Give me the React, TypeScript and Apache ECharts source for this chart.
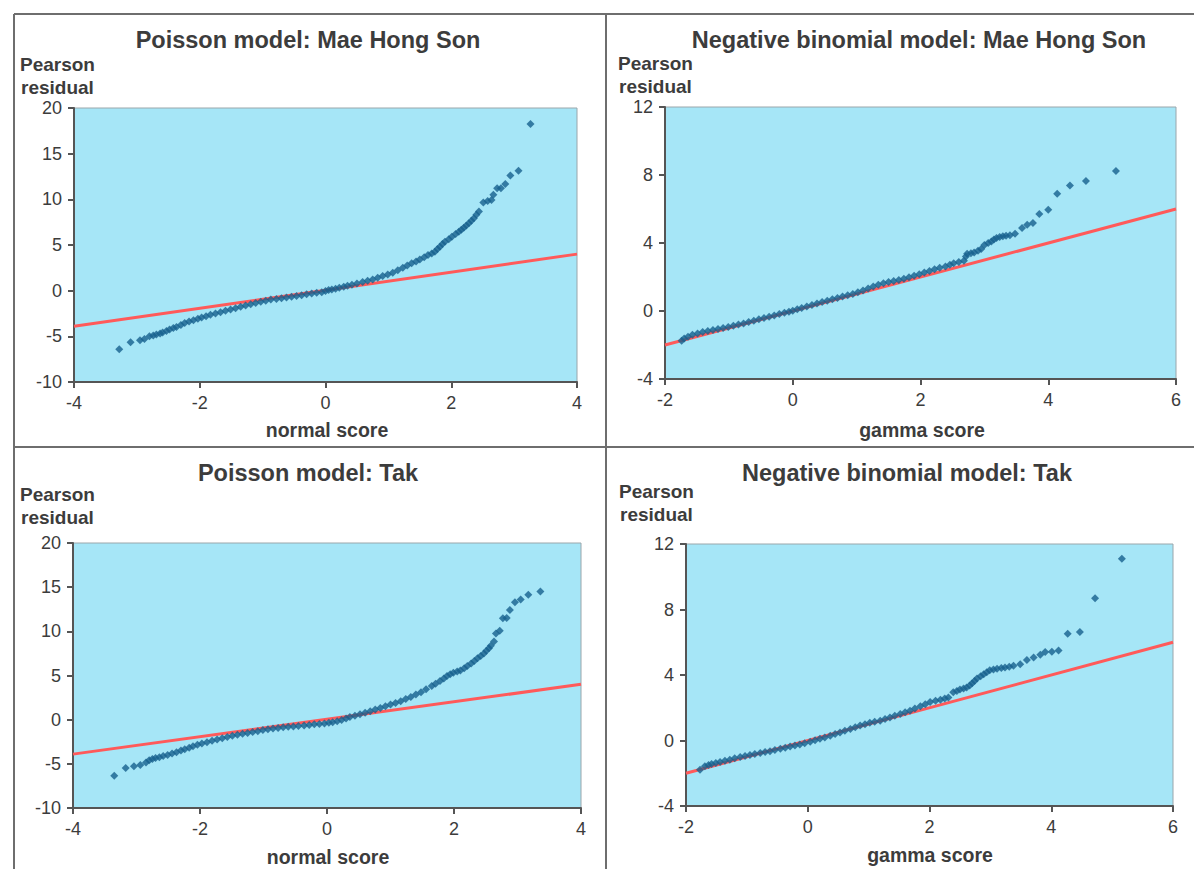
import React, { useEffect, useRef } from "react";
import * as echarts from "echarts";

// ---------- data ----------
const panelTitles = [
  "Poisson model: Mae Hong Son",
  "Negative binomial model: Mae Hong Son",
  "Poisson model: Tak",
  "Negative binomial model: Tak",
];
const xAxisNames = ["normal score", "gamma score", "normal score", "gamma score"];
const yAxisNameLines = ["Pearson", "residual"];

const poissonXTicks = { min: -4, max: 4, interval: 2 };
const nbXTicks = { min: -2, max: 6, interval: 2 };
const poissonYTicks = { min: -10, max: 20, interval: 5 };
const nbYTicks = { min: -4, max: 12, interval: 4 };

const poissonRefLine = [[-4, -3.9], [4, 4.0]];
const nbRefLine = [[-2, -2], [6, 6]];

const maeHongSonPoisson = [
  [-3.28, -6.42], [-3.10, -5.65], [-2.95, -5.43], [-2.88, -5.28], [-2.80, -5.0], [-2.74, -4.9],
  [-2.69, -4.81], [-2.63, -4.7], [-2.59, -4.59], [-2.53, -4.42], [-2.48, -4.26], [-2.42, -4.1],
  [-2.37, -3.97], [-2.30, -3.75], [-2.24, -3.53], [-2.17, -3.38], [-2.10, -3.23], [-2.03, -3.08],
  [-1.97, -2.94], [-1.90, -2.80], [-1.83, -2.65], [-1.75, -2.50], [-1.67, -2.36], [-1.59, -2.21],
  [-1.51, -2.06], [-1.43, -1.92], [-1.35, -1.77], [-1.27, -1.62], [-1.19, -1.48], [-1.11, -1.35],
  [-1.03, -1.22], [-0.95, -1.10], [-0.87, -0.97], [-0.78, -0.90], [-0.70, -0.82], [-0.62, -0.74],
  [-0.54, -0.67], [-0.46, -0.58], [-0.38, -0.49], [-0.30, -0.40], [-0.22, -0.31], [-0.14, -0.23],
  [-0.06, -0.16], [0.0, -0.04], [0.05, 0.06], [0.10, 0.14], [0.16, 0.21], [0.22, 0.32],
  [0.29, 0.42], [0.35, 0.53], [0.42, 0.64], [0.50, 0.79], [0.59, 0.94], [0.67, 1.08],
  [0.75, 1.23], [0.83, 1.42], [0.91, 1.60], [0.99, 1.78], [1.07, 1.96], [1.15, 2.24],
  [1.23, 2.51], [1.30, 2.75], [1.37, 2.99], [1.44, 3.2], [1.50, 3.42], [1.57, 3.66],
  [1.63, 3.90], [1.69, 4.08], [1.74, 4.27], [1.78, 4.55], [1.82, 4.82], [1.86, 5.1],
  [1.90, 5.36], [1.96, 5.62], [2.01, 5.91], [2.07, 6.2], [2.12, 6.46], [2.16, 6.68],
  [2.20, 6.90], [2.24, 7.14], [2.28, 7.38], [2.32, 7.66], [2.36, 7.93], [2.40, 8.3],
  [2.44, 8.66], [2.51, 9.65], [2.58, 9.83], [2.64, 9.94], [2.67, 10.49], [2.73, 11.22],
  [2.79, 11.22], [2.86, 11.69], [2.94, 12.61], [3.07, 13.12], [3.26, 18.24],
];

const maeHongSonNB = [
  [-1.74, -1.75], [-1.70, -1.62], [-1.64, -1.52], [-1.57, -1.40], [-1.49, -1.32], [-1.41, -1.24],
  [-1.33, -1.18], [-1.25, -1.12], [-1.17, -1.06], [-1.09, -1.00], [-1.01, -0.94], [-0.93, -0.87],
  [-0.85, -0.80], [-0.77, -0.73], [-0.69, -0.65], [-0.61, -0.57], [-0.53, -0.49], [-0.45, -0.41],
  [-0.37, -0.34], [-0.29, -0.26], [-0.21, -0.18], [-0.13, -0.10], [-0.06, -0.04], [0.0, 0.02],
  [0.07, 0.10], [0.14, 0.18], [0.22, 0.27], [0.30, 0.35], [0.38, 0.44], [0.46, 0.53],
  [0.54, 0.61], [0.62, 0.69], [0.70, 0.77], [0.78, 0.85], [0.86, 0.92], [0.94, 1.00],
  [1.02, 1.10], [1.10, 1.20], [1.18, 1.32], [1.26, 1.44], [1.34, 1.54], [1.42, 1.63],
  [1.50, 1.70], [1.58, 1.77], [1.66, 1.83], [1.74, 1.89], [1.82, 1.98], [1.90, 2.07],
  [1.98, 2.16], [2.06, 2.26], [2.14, 2.36], [2.22, 2.46], [2.30, 2.54], [2.39, 2.62],
  [2.46, 2.72], [2.52, 2.81], [2.60, 2.88], [2.68, 2.95], [2.71, 3.2], [2.73, 3.37],
  [2.79, 3.40], [2.84, 3.44], [2.90, 3.54], [2.95, 3.64], [3.00, 3.88], [3.06, 4.0],
  [3.11, 4.09], [3.15, 4.2], [3.19, 4.29], [3.24, 4.35], [3.29, 4.39], [3.34, 4.42],
  [3.40, 4.45], [3.48, 4.55], [3.59, 4.88], [3.67, 5.08], [3.76, 5.18], [3.86, 5.71],
  [4.00, 5.96], [4.14, 6.89], [4.34, 7.38], [4.59, 7.64], [5.06, 8.23],
];

const takPoisson = [
  [-3.35, -6.34], [-3.17, -5.47], [-3.04, -5.28], [-2.94, -5.13], [-2.85, -4.86], [-2.80, -4.6],
  [-2.75, -4.44], [-2.70, -4.35], [-2.64, -4.25], [-2.58, -4.12], [-2.51, -3.99], [-2.44, -3.84],
  [-2.37, -3.68], [-2.30, -3.5], [-2.24, -3.34], [-2.17, -3.17], [-2.11, -3.00], [-2.04, -2.85],
  [-1.97, -2.70], [-1.89, -2.55], [-1.81, -2.39], [-1.73, -2.24], [-1.65, -2.09], [-1.57, -1.95],
  [-1.49, -1.82], [-1.41, -1.71], [-1.33, -1.60], [-1.25, -1.50], [-1.17, -1.41], [-1.09, -1.30],
  [-1.01, -1.18], [-0.93, -1.08], [-0.85, -0.99], [-0.77, -0.93], [-0.69, -0.87], [-0.61, -0.81],
  [-0.53, -0.76], [-0.45, -0.71], [-0.36, -0.65], [-0.28, -0.59], [-0.20, -0.53], [-0.12, -0.48],
  [-0.04, -0.42], [0.03, -0.36], [0.09, -0.30], [0.16, -0.18], [0.23, -0.04], [0.30, 0.13],
  [0.36, 0.30], [0.44, 0.45], [0.52, 0.61], [0.60, 0.78], [0.68, 0.95], [0.76, 1.14],
  [0.84, 1.33], [0.92, 1.52], [1.00, 1.71], [1.08, 1.90], [1.16, 2.09], [1.24, 2.33],
  [1.32, 2.58], [1.40, 2.84], [1.48, 3.11], [1.56, 3.45], [1.65, 3.80], [1.71, 4.08],
  [1.78, 4.37], [1.84, 4.65], [1.89, 4.94], [1.94, 5.13], [1.99, 5.32], [2.05, 5.45],
  [2.10, 5.58], [2.16, 5.83], [2.21, 6.08], [2.27, 6.36], [2.32, 6.65], [2.37, 6.94],
  [2.42, 7.22], [2.47, 7.5], [2.51, 7.79], [2.55, 8.08], [2.58, 8.36], [2.63, 8.85],
  [2.66, 9.76], [2.72, 10.06], [2.77, 11.47], [2.83, 11.51], [2.88, 12.42], [2.96, 13.29],
  [3.05, 13.60], [3.17, 14.13], [3.36, 14.51],
];

const takNB = [
  [-1.77, -1.78], [-1.69, -1.57], [-1.63, -1.50], [-1.58, -1.43], [-1.51, -1.37], [-1.44, -1.31],
  [-1.36, -1.24], [-1.28, -1.17], [-1.20, -1.08], [-1.11, -1.00], [-1.03, -0.94], [-0.95, -0.88],
  [-0.87, -0.82], [-0.78, -0.76], [-0.70, -0.70], [-0.62, -0.65], [-0.54, -0.58], [-0.45, -0.51],
  [-0.37, -0.44], [-0.29, -0.37], [-0.21, -0.31], [-0.13, -0.25], [-0.05, -0.17], [0.04, -0.08],
  [0.12, 0.01], [0.20, 0.10], [0.28, 0.19], [0.37, 0.29], [0.45, 0.39], [0.53, 0.49],
  [0.61, 0.59], [0.70, 0.70], [0.78, 0.81], [0.86, 0.92], [0.94, 1.00], [1.02, 1.08],
  [1.10, 1.14], [1.19, 1.21], [1.27, 1.31], [1.35, 1.41], [1.43, 1.51], [1.52, 1.62],
  [1.60, 1.72], [1.68, 1.82], [1.76, 1.95], [1.85, 2.09], [1.93, 2.22], [2.01, 2.35],
  [2.10, 2.42], [2.18, 2.49], [2.25, 2.56], [2.31, 2.62], [2.39, 2.94], [2.45, 3.02],
  [2.50, 3.11], [2.56, 3.17], [2.61, 3.23], [2.66, 3.36], [2.70, 3.50], [2.74, 3.64],
  [2.78, 3.78], [2.84, 3.92], [2.89, 4.05], [2.94, 4.17], [2.99, 4.29], [3.05, 4.34],
  [3.11, 4.38], [3.18, 4.42], [3.24, 4.46], [3.31, 4.51], [3.38, 4.56], [3.49, 4.66],
  [3.60, 4.91], [3.71, 5.07], [3.82, 5.24], [3.90, 5.40], [4.01, 5.42], [4.12, 5.50],
  [4.27, 6.52], [4.47, 6.63], [4.72, 8.69], [5.16, 11.10],
];

// ---------- layout / style ----------
const FONT = '"Liberation Sans", Arial, sans-serif';
const TEXT_COLOR = "#3c3c3c";
const PLOT_BG = "#a6e6f7";
const POINT_COLOR = "#17608d";
const LINE_COLOR = "#ff5a5a";
const AXIS_COLOR = "#555";

const layouts = [
  { grid: { left: 74, top: 108, width: 503, height: 274 }, titleX: 308, titleY: 40, labX: 20, labY: 64, nameX: 327, nameY: 430 },
  { grid: { left: 665, top: 107, width: 511, height: 272 }, titleX: 919, titleY: 40, labX: 618, labY: 63, nameX: 922, nameY: 430 },
  { grid: { left: 73, top: 543, width: 508, height: 265 }, titleX: 308, titleY: 473, labX: 20, labY: 494, nameX: 328, nameY: 857 },
  { grid: { left: 686, top: 544, width: 487, height: 262 }, titleX: 907, titleY: 473, labX: 619, labY: 491, nameX: 930, nameY: 855 },
];

const panelData = [maeHongSonPoisson, maeHongSonNB, takPoisson, takNB];
const panelRef = [poissonRefLine, nbRefLine, poissonRefLine, nbRefLine];
const panelX = [poissonXTicks, nbXTicks, poissonXTicks, nbXTicks];
const panelY = [poissonYTicks, nbYTicks, poissonYTicks, nbYTicks];

export default function App() {
  const ref = useRef<HTMLDivElement>(null);

  useEffect(() => {
    if (!ref.current) return;
    const chart = echarts.init(ref.current, null, { renderer: "svg" });

    const axisCommon = {
      type: "value" as const,
      axisLine: { show: true, onZero: false, lineStyle: { color: AXIS_COLOR, width: 2 } },
      axisTick: { show: true, inside: false, length: 6, lineStyle: { color: AXIS_COLOR, width: 2 } },
      axisLabel: { color: TEXT_COLOR, fontSize: 18, fontFamily: FONT, margin: 12 },
      splitLine: { show: false },
    };

    const graphics: any[] = [];
    const frame = { stroke: "#6e6e6e", lineWidth: 2 };
    graphics.push({ type: "line", shape: { x1: 14, y1: 14, x2: 1194, y2: 14 }, style: frame });
    graphics.push({ type: "line", shape: { x1: 14, y1: 14, x2: 14, y2: 869 }, style: frame });
    graphics.push({ type: "line", shape: { x1: 606, y1: 14, x2: 606, y2: 869 }, style: frame });
    graphics.push({ type: "line", shape: { x1: 14, y1: 447, x2: 1194, y2: 447 }, style: frame });

    layouts.forEach((l, i) => {
      graphics.push({
        type: "text", x: l.titleX, y: l.titleY,
        style: { text: panelTitles[i], font: `bold 23.5px ${FONT}`, fill: TEXT_COLOR, textAlign: "center", textVerticalAlign: "middle" },
      });
      yAxisNameLines.forEach((t, k) => {
        graphics.push({
          type: "text", x: l.labX + (k === 1 ? 1 : 0), y: l.labY + k * 23,
          style: { text: t, font: `bold 19px ${FONT}`, fill: TEXT_COLOR, textAlign: "left", textVerticalAlign: "middle" },
        });
      });
      graphics.push({
        type: "text", x: l.nameX, y: l.nameY,
        style: { text: xAxisNames[i], font: `bold 19.5px ${FONT}`, fill: TEXT_COLOR, textAlign: "center", textVerticalAlign: "middle" },
      });
    });

    const series: any[] = [];
    panelData.forEach((d, i) => {
      series.push({
        type: "line", xAxisIndex: i, yAxisIndex: i, data: panelRef[i],
        symbol: "none", silent: true, z: 2,
        lineStyle: { color: LINE_COLOR, width: 3 },
      });
      series.push({
        type: "scatter", xAxisIndex: i, yAxisIndex: i, data: d,
        symbol: "diamond", symbolSize: 8, z: 3,
        itemStyle: { color: POINT_COLOR },
      });
    });

    chart.setOption({
      animation: false,
      backgroundColor: "#ffffff",
      grid: layouts.map((l) => ({
        ...l.grid, show: true, backgroundColor: PLOT_BG, borderColor: "#9aa6ab", borderWidth: 1,
      })),
      xAxis: panelX.map((t, i) => ({ ...axisCommon, gridIndex: i, min: t.min, max: t.max, interval: t.interval })),
      yAxis: panelY.map((t, i) => ({ ...axisCommon, gridIndex: i, min: t.min, max: t.max, interval: t.interval })),
      series,
      graphic: graphics,
    });

    return () => chart.dispose();
  }, []);

  return (
    <div
      ref={ref}
      style={{ position: "absolute", left: 0, top: 0, width: 1194, height: 869, background: "#fff" }}
    />
  );
}
